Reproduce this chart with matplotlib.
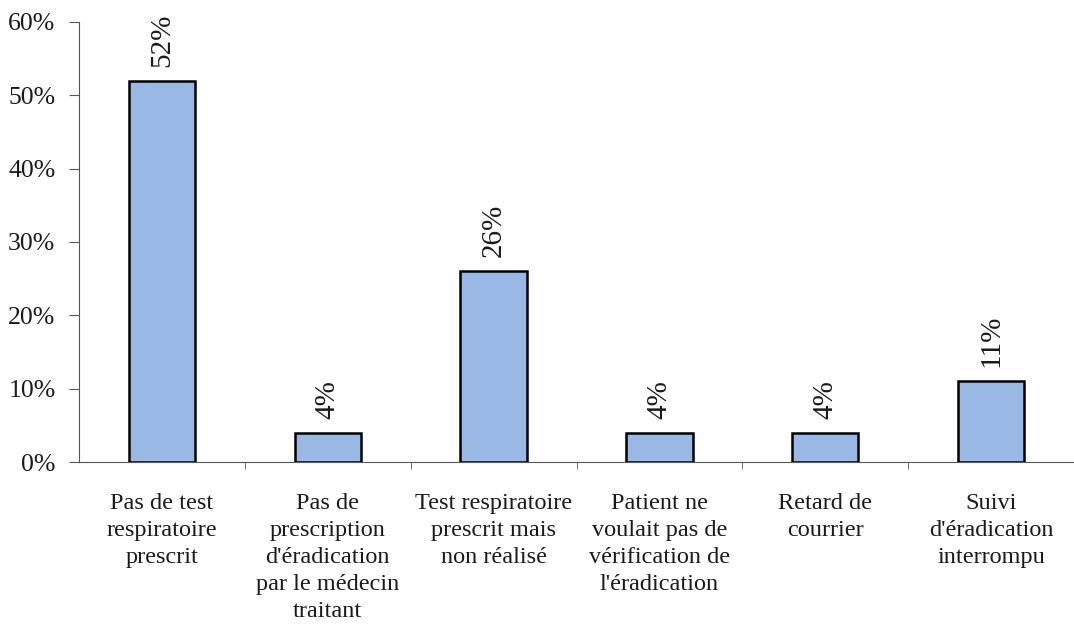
import matplotlib
matplotlib.use("Agg")
from matplotlib import pyplot as plt
import numpy as np

categories = ["Pas de test\nrespiratoire\nprescrit",
              "Pas de\nprescription\nd'éradication\npar le médecin\ntraitant",
              "Test respiratoire\nprescrit mais\nnon réalisé",
              "Patient ne\nvoulait pas de\nvérification de\nl'éradication",
              "Retard de\ncourrier",
              "Suivi\nd'éradication\ninterrompu"]
values = [52, 4, 26, 4, 4, 11]
yticks = [0, 10, 20, 30, 40, 50, 60]

plt.rcParams['font.family'] = ['Liberation Serif', 'DejaVu Serif']

fig = plt.figure(figsize=(10.74, 6.28), dpi=100)
ax = fig.add_axes([0.0736, 0.2643, 0.9264, 0.7007])

x = np.arange(len(categories))
ax.bar(x, values, width=0.40, color='#99B8E4', edgecolor='black', linewidth=1.8, zorder=3)

for xi, v in zip(x, values):
    ax.annotate(f"{v}%", (xi, v), xytext=(0, 10), textcoords='offset points',
                rotation=90, ha='center', va='bottom', fontsize=21, color='#1a1a1a')

ax.set_xlim(-0.5, len(categories) - 0.5)
ax.set_ylim(0, 60)
ax.set_yticks(yticks)
ax.set_yticklabels([f"{t}%" for t in yticks], fontsize=18.5, color='#1a1a1a')
ax.set_xticks(x)
ax.set_xticklabels(categories, fontsize=17.5, linespacing=1.38, color='#1a1a1a')
ax.set_xticks(np.arange(0.5, len(categories) - 0.5, 1), minor=True)
ax.tick_params(axis='x', which='major', length=0, pad=22)
ax.tick_params(axis='x', which='minor', length=5, direction='out', color='#555555')
ax.tick_params(axis='y', length=7, direction='out', color='#555555', pad=10)

for s in ['top', 'right']:
    ax.spines[s].set_visible(False)
ax.spines['left'].set_color('#555555')
ax.spines['bottom'].set_color('#555555')

fig.savefig("out.png", dpi=100)
